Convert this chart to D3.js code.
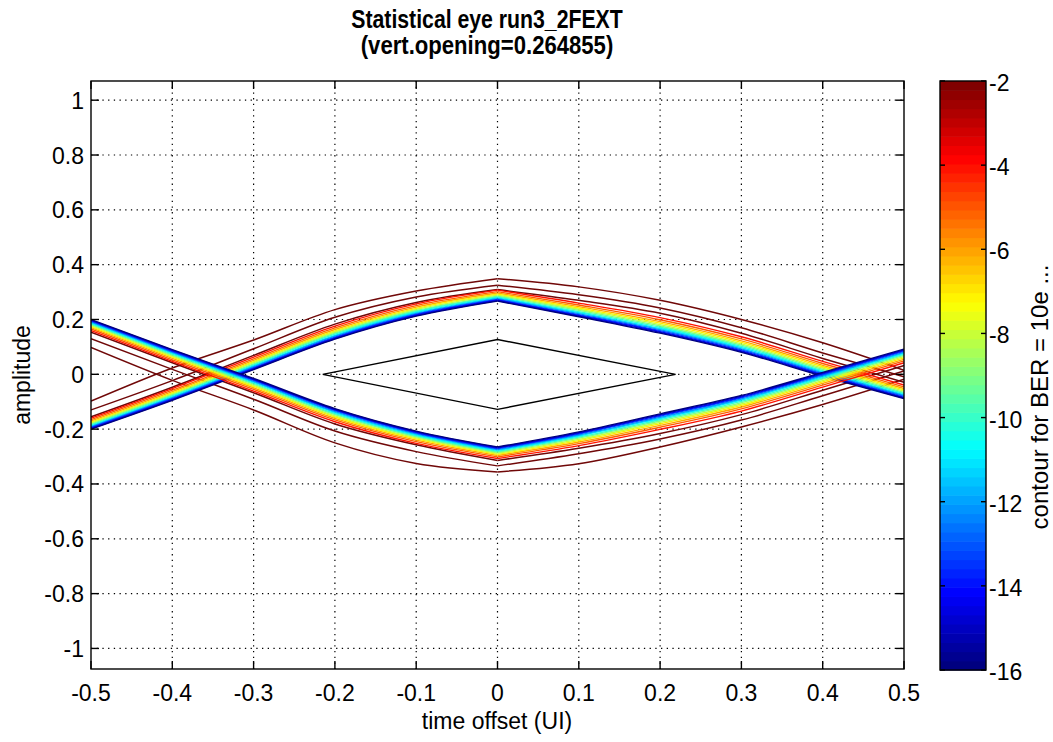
<!DOCTYPE html>
<html><head><meta charset="utf-8">
<script src="https://cdn.jsdelivr.net/npm/d3@7"></script>
<style>
html,body{margin:0;padding:0;background:#fff;}
svg{display:block;}
text{font-family:"Liberation Sans",Arial,sans-serif;fill:#000;}
</style></head><body>
<svg id="chart" width="1053" height="742"></svg>
<script>
// ---------------- data ----------------
const titleLines = ["Statistical eye run3_2FEXT", "(vert.opening=0.264855)"];
const xLabel = "time offset (UI)";
const yLabel = "amplitude";
const cbLabel = "contour for BER = 10e ...";

const timeTicks = [-0.5,-0.4,-0.3,-0.2,-0.1,0,0.1,0.2,0.3,0.4,0.5];
const ampTicks  = [-1,-0.8,-0.6,-0.4,-0.2,0,0.2,0.4,0.6,0.8,1];
const berTicks  = [-2,-4,-6,-8,-10,-12,-14,-16];

// BER levels forming the dense coloured band, and their relative position across the band
const bandLevels   = [-16,-15,-14,-13,-12,-11,-10,-9,-8,-7,-6,-5,-4];
const bandLevelPos = [0,0.05,0.1,0.16,0.23,0.3,0.38,0.46,0.55,0.64,0.74,0.86,1];

const sampleTimes = [-0.5,-0.4,-0.3,-0.2,-0.1,0,0.1,0.2,0.3,0.4,0.5];

// upper boundary of the eye (inner BER=1e-16 edge), band width, and outer BER=1e-2 contours
const upperInner     = [-0.200,-0.095,0.017,0.128,0.212,0.267,0.210,0.150,0.080,-0.007,-0.089];
const upperBandWidth = [0.040,0.043,0.046,0.048,0.045,0.040,0.050,0.057,0.057,0.054,0.050];
const upperOuter1    = [-0.155,-0.047,0.069,0.183,0.262,0.309,0.270,0.223,0.150,0.058,-0.029];
const upperOuter2    = [-0.130,-0.023,0.093,0.208,0.282,0.325,0.290,0.242,0.170,0.078,-0.009];
const upperOuter3    = [-0.098,0.023,0.125,0.236,0.304,0.349,0.319,0.270,0.200,0.115,0.015];

// lower boundary of the eye
const lowerInner     = [0.200,0.090,-0.015,-0.125,-0.207,-0.265,-0.210,-0.144,-0.077,0.007,0.092];
const lowerBandWidth = [0.040,0.043,0.046,0.048,0.045,0.042,0.050,0.057,0.057,0.054,0.050];
const lowerOuter1    = [0.154,0.042,-0.067,-0.181,-0.257,-0.314,-0.270,-0.216,-0.147,-0.058,0.032];
const lowerOuter2    = [0.130,0.018,-0.091,-0.207,-0.282,-0.334,-0.290,-0.236,-0.167,-0.078,0.012];
const lowerOuter3    = [0.098,-0.022,-0.130,-0.250,-0.325,-0.356,-0.326,-0.265,-0.192,-0.110,-0.018];

// black eye-opening diamond
const maskTime = [-0.215,0,0.219,0,-0.215];
const maskAmp  = [0,0.127,0,-0.128,0];

// ---------------- drawing ----------------
const svg = d3.select("#chart");
const plot = {left:91, right:904, top:81, bottom:669};
const x = d3.scaleLinear().domain([-0.5,0.5]).range([plot.left, plot.right]);
const y = d3.scaleLinear().domain([-1.075,1.07]).range([plot.bottom, plot.top]);

function jet(t){
  const c = v => Math.max(0, Math.min(1, v));
  const r = c(Math.min(4*t-1.5, -4*t+4.5));
  const g = c(Math.min(4*t-0.5, -4*t+3.5));
  const b = c(Math.min(4*t+0.5, -4*t+2.5));
  return d3.rgb(r*255, g*255, b*255).toString();
}
const berColor = d3.scaleLinear().domain([-16,-2]).range([0,1]);
const levelColor = L => jet(berColor(L));
const tickText = d => String(d);

svg.append("defs").append("clipPath").attr("id","pc")
  .append("rect").attr("x",plot.left).attr("y",plot.top)
  .attr("width",plot.right-plot.left).attr("height",plot.bottom-plot.top);

// grid (dotted)
const grid = svg.append("g").attr("stroke","#000").attr("stroke-width",1.2)
  .attr("stroke-dasharray","1.3,4.4");
grid.selectAll("line.v").data(timeTicks.slice(1,-1)).join("line").attr("class","v")
  .attr("x1",d=>x(d)).attr("x2",d=>x(d)).attr("y1",plot.top).attr("y2",plot.bottom);
grid.selectAll("line.h").data(ampTicks).join("line").attr("class","h")
  .attr("x1",plot.left).attr("x2",plot.right).attr("y1",d=>y(d)).attr("y2",d=>y(d));

const g = svg.append("g").attr("clip-path","url(#pc)");

const line = d3.line().x(d=>x(d[0])).y(d=>y(d[1])).curve(d3.curveMonotoneX);
function halves(vals){
  const pts = sampleTimes.map((t,i)=>[t, vals[i]]);
  return [pts.slice(0,6), pts.slice(5)];
}
function drawCurve(vals, color, w){
  halves(vals).forEach(h=>{
    g.append("path").attr("d", line(h)).attr("fill","none")
      .attr("stroke", color).attr("stroke-width", w).attr("stroke-linejoin","round");
  });
}

const arches = [
  {inner:upperInner, width:upperBandWidth, outer:[upperOuter1,upperOuter2,upperOuter3], dir:1},
  {inner:lowerInner, width:lowerBandWidth, outer:[lowerOuter1,lowerOuter2,lowerOuter3], dir:-1}
];

arches.forEach(a=>{
  a.outer.forEach(o=>drawCurve(o, "#700808", 1.5));
});
arches.forEach(a=>{
  for(let k=bandLevels.length-1;k>=0;k--){
    const vals = a.inner.map((v,i)=>v + a.dir*bandLevelPos[k]*a.width[i]);
    drawCurve(vals, levelColor(bandLevels[k]), 1.35);
  }
});

g.append("path")
  .attr("d", d3.line().x(d=>x(d[0])).y(d=>y(d[1]))(maskTime.map((t,i)=>[t,maskAmp[i]])))
  .attr("fill","none").attr("stroke","#000").attr("stroke-width",1.4);

// axes box and inward ticks
const ax = svg.append("g").attr("stroke","#000").attr("stroke-width",1.4);
ax.append("rect").attr("x",plot.left).attr("y",plot.top)
  .attr("width",plot.right-plot.left).attr("height",plot.bottom-plot.top).attr("fill","none");
const tl = 8;
ax.selectAll("line.xb").data(timeTicks).join("line").attr("class","xb")
  .attr("x1",d=>x(d)).attr("x2",d=>x(d)).attr("y1",plot.bottom).attr("y2",plot.bottom-tl);
ax.selectAll("line.xt").data(timeTicks).join("line").attr("class","xt")
  .attr("x1",d=>x(d)).attr("x2",d=>x(d)).attr("y1",plot.top).attr("y2",plot.top+tl);
ax.selectAll("line.yl").data(ampTicks).join("line").attr("class","yl")
  .attr("x1",plot.left).attr("x2",plot.left+tl).attr("y1",d=>y(d)).attr("y2",d=>y(d));
ax.selectAll("line.yr").data(ampTicks).join("line").attr("class","yr")
  .attr("x1",plot.right).attr("x2",plot.right-tl).attr("y1",d=>y(d)).attr("y2",d=>y(d));

const fs = 23;
svg.append("g").selectAll("text").data(timeTicks).join("text")
  .attr("x",d=>x(d)).attr("y",701).attr("text-anchor","middle")
  .attr("font-size",fs).text(tickText);
svg.append("g").selectAll("text").data(ampTicks).join("text")
  .attr("x",84).attr("y",d=>y(d)+8.5).attr("text-anchor","end")
  .attr("font-size",fs).text(tickText);

svg.append("text").attr("x",497).attr("y",729).attr("text-anchor","middle")
  .attr("font-size",fs).text(xLabel);
svg.append("text").attr("transform","translate(30,375) rotate(-90)")
  .attr("text-anchor","middle").attr("font-size",fs).text(yLabel);

const titleScale = [0.85, 0.885];
titleLines.forEach((t,i)=>{
  svg.append("text").attr("transform",`translate(487,${28+i*25.5}) scale(${titleScale[i]},1)`)
    .attr("text-anchor","middle")
    .attr("font-size",25).attr("font-weight","bold")
    .text(t);
});

// colorbar
const cb = {left:940, right:986, top:81, bottom:670};
const yc = d3.scaleLinear().domain([-16,-2]).range([cb.bottom, cb.top]);
const nSteps = 64;
const steps = d3.range(nSteps);
const stepVal = d3.scaleLinear().domain([0,nSteps]).range([-16,-2]);
svg.append("g").selectAll("rect").data(steps).join("rect")
  .attr("x",cb.left).attr("width",cb.right-cb.left)
  .attr("y",d=>yc(stepVal(d+1))).attr("height",d=>yc(stepVal(d))-yc(stepVal(d+1))+0.6)
  .attr("fill",d=>jet(d/(nSteps-1)));
const cbx = svg.append("g").attr("stroke","#000").attr("stroke-width",1.4);
cbx.append("rect").attr("x",cb.left).attr("y",cb.top).attr("width",cb.right-cb.left)
  .attr("height",cb.bottom-cb.top).attr("fill","none");
cbx.selectAll("line.l").data(berTicks).join("line").attr("class","l")
  .attr("x1",cb.left).attr("x2",cb.left+5).attr("y1",d=>yc(d)).attr("y2",d=>yc(d));
cbx.selectAll("line.r").data(berTicks).join("line").attr("class","r")
  .attr("x1",cb.right).attr("x2",cb.right-5).attr("y1",d=>yc(d)).attr("y2",d=>yc(d));
svg.append("g").selectAll("text").data(berTicks).join("text")
  .attr("x",989).attr("y",d=>yc(d)+10).attr("font-size",fs).text(tickText);
svg.append("text").attr("transform","translate(1048,397) rotate(-90)")
  .attr("text-anchor","middle").attr("font-size",24).text(cbLabel);
</script>
</body></html>
